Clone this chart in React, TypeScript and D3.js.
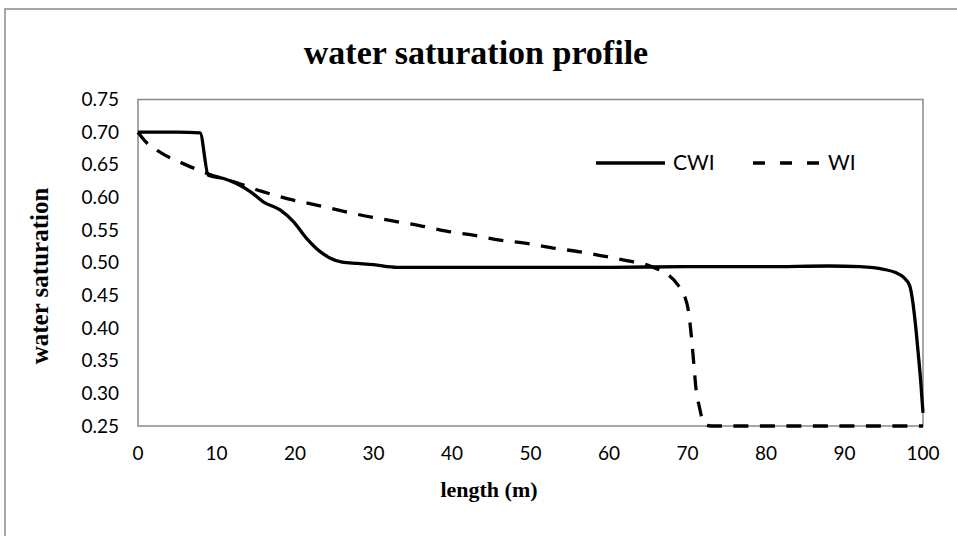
import React from "react";
import * as d3 from "d3";

const cwiX = [0, 2, 5, 7.9, 8.96, 10.9, 12.6, 14.3, 16.0, 18.1, 19.8, 21.5, 23.2, 24.5, 26, 28, 30, 33, 40, 50, 60, 70, 80, 88, 92, 95, 96.5, 97.5, 98.3, 98.7, 99.0, 99.4, 99.7, 100];
const cwiY = [0.70, 0.70, 0.70, 0.699, 0.634, 0.629, 0.621, 0.609, 0.593, 0.581, 0.563, 0.537, 0.517, 0.507, 0.501, 0.499, 0.497, 0.493, 0.493, 0.493, 0.493, 0.494, 0.494, 0.495, 0.494, 0.490, 0.485, 0.478, 0.465, 0.44, 0.41, 0.36, 0.32, 0.27];
const wiX = [0, 1, 3.0, 6.2, 9, 12.6, 15.8, 19.1, 22.6, 28, 33.4, 36, 39.3, 42.7, 46.1, 49.5, 52.9, 56.3, 59.7, 63.0, 65, 66.3, 67.5, 68.8, 69.6, 70.1, 70.5, 70.8, 71.1, 71.5, 71.8, 72.2, 73, 80, 90, 100];
const wiY = [0.70, 0.685, 0.668, 0.6495, 0.636, 0.6224, 0.6092, 0.5979, 0.5887, 0.574, 0.562, 0.5566, 0.5484, 0.5423, 0.5347, 0.5296, 0.5224, 0.5168, 0.5092, 0.5016, 0.496, 0.4898, 0.482, 0.4658, 0.45, 0.4275, 0.3867, 0.346, 0.305, 0.28, 0.264, 0.252, 0.25, 0.25, 0.25, 0.25];

const xTicks = [0, 10, 20, 30, 40, 50, 60, 70, 80, 90, 100];
const yTicks = [0.25, 0.30, 0.35, 0.40, 0.45, 0.50, 0.55, 0.60, 0.65, 0.70, 0.75];
const seriesNames = ["CWI", "WI"];

export default function App() {
  const W = 957, H = 536;
  const left = 138, right = 923, top = 99.5, bottom = 426;
  const x = d3.scaleLinear().domain([0, 100]).range([left, right]);
  const y = d3.scaleLinear().domain([0.25, 0.75]).range([bottom, top]);
  const cwi = cwiX.map((v, i) => [v, cwiY[i]] as [number, number]);
  const wi = wiX.map((v, i) => [v, wiY[i]] as [number, number]);
  const lineCurve = d3.line<[number, number]>().x(d => x(d[0])).y(d => y(d[1])).curve(d3.curveMonotoneX);
  const tickFont = "Lato, 'Open Sans', sans-serif";
  const serif = "'Liberation Serif', 'Times New Roman', serif";
  return (
    <svg width={W} height={H} style={{ position: "absolute", left: 0, top: 0, background: "#fff" }}>
      <rect x={5} y={9} width={1000} height={600} fill="#fff" stroke="#898989" strokeWidth={1.5} />
      <text x={476} y={64} textAnchor="middle" fontFamily={serif} fontWeight="bold" fontSize={34}>water saturation profile</text>
      <rect x={left} y={top} width={right - left} height={bottom - top} fill="none" stroke="#898989" strokeWidth={1.5} />
      {yTicks.map(t => (
        <text key={"y" + t} x={119} y={y(t)} dy="0.35em" textAnchor="end" fontFamily={tickFont} fontSize={19}>{t.toFixed(2)}</text>
      ))}
      {xTicks.map(t => (
        <text key={"x" + t} x={x(t)} y={460} textAnchor="middle" fontFamily={tickFont} fontSize={19}>{t}</text>
      ))}
      <path d={lineCurve(cwi) || ""} fill="none" stroke="#000" strokeWidth={3.3} strokeLinejoin="round" />
      <path d={lineCurve(wi) || ""} fill="none" stroke="#000" strokeWidth={3.3} strokeDasharray="15 11.5" />
      <text x={489} y={497} textAnchor="middle" fontFamily={serif} fontWeight="bold" fontSize={22}>length (m)</text>
      <text transform={`translate(48,276) rotate(-90)`} textAnchor="middle" fontFamily={serif} fontWeight="bold" fontSize={25}>water saturation</text>
      <line x1={596} x2={665} y1={163} y2={163} stroke="#000" strokeWidth={3.3} />
      <text x={673} y={163} dy="0.35em" fontFamily={tickFont} fontSize={21}>{seriesNames[0]}</text>
      <line x1={753} x2={820} y1={163} y2={163} stroke="#000" strokeWidth={3.3} strokeDasharray="12 15" />
      <text x={828} y={163} dy="0.35em" fontFamily={tickFont} fontSize={21}>{seriesNames[1]}</text>
    </svg>
  );
}
